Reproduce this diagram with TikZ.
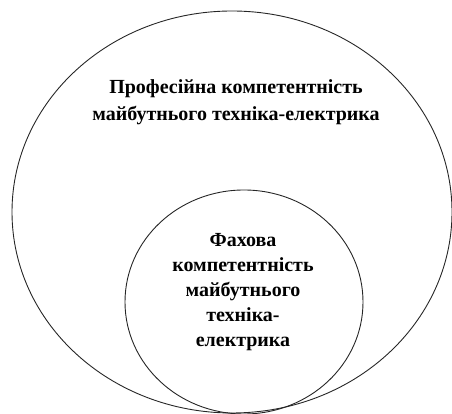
\documentclass[tikz,border=0pt]{standalone}
\usepackage{fontspec}
\setmainfont{Liberation Serif}
\usetikzlibrary{shapes.geometric}
\begin{document}
\begin{tikzpicture}[x=1pt,y=1pt,
  ring/.style={draw=black!85,line width=0.9pt},
  lbl/.style={font=\bfseries\fontsize{20}{27}\selectfont,align=center}]
\useasboundingbox (0,0) rectangle (452,414);
\node[ring,ellipse,minimum width=440pt,minimum height=402pt,inner sep=0pt] (outer) at (232,202) {};
\node[ring,ellipse,minimum width=238pt,minimum height=224pt,inner sep=0pt] (inner) at (244,112) {};
\node[lbl] (t1) at (236,312) {Професійна компетентність\\майбутнього техніка-електрика};
\node[lbl,font=\bfseries\fontsize{20}{25}\selectfont] (t2) at (243,122) {Фахова\\компетентність\\майбутнього\\техніка-\\електрика};
\end{tikzpicture}
\end{document}
